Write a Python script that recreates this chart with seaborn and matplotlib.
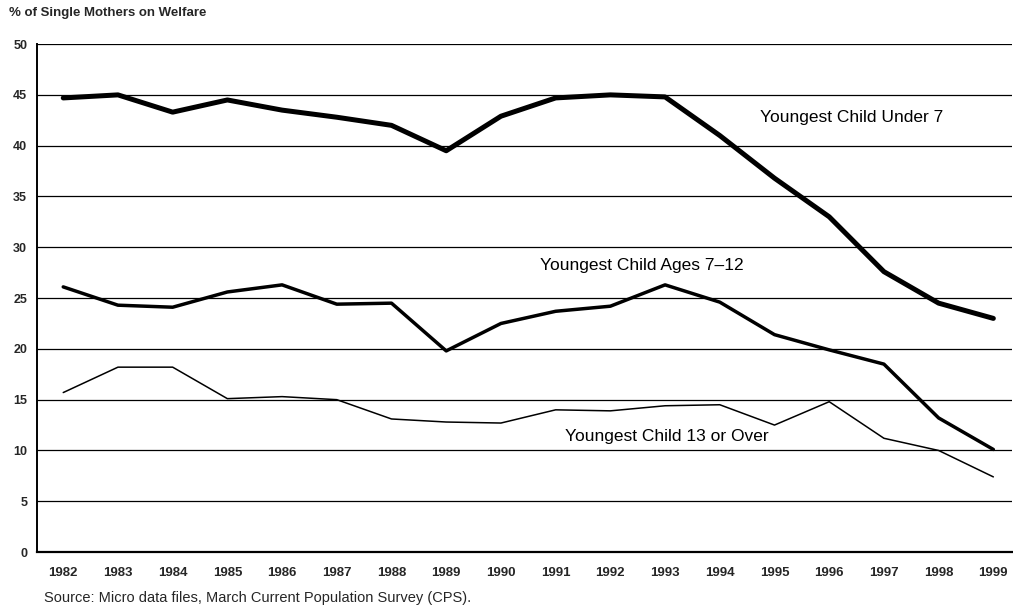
"""Share of single mothers on welfare by age of youngest child, 1982-1999."""

import matplotlib.pyplot as plt
import pandas as pd
import seaborn as sns


years = list(range(1982, 2000))

under_7 = [44.7, 45.0, 43.3, 44.5, 43.5, 42.8, 42.0, 39.5, 42.9,
           44.7, 45.0, 44.8, 41.0, 36.8, 33.0, 27.6, 24.5, 23.0]
ages_7_12 = [26.1, 24.3, 24.1, 25.6, 26.3, 24.4, 24.5, 19.8, 22.5,
             23.7, 24.2, 26.3, 24.6, 21.4, 19.9, 18.5, 13.2, 10.1]
over_13 = [15.7, 18.2, 18.2, 15.1, 15.3, 15.0, 13.1, 12.8, 12.7,
           14.0, 13.9, 14.4, 14.5, 12.5, 14.8, 11.2, 10.0, 7.4]

y_ticks = list(range(0, 55, 5))

sns.set_theme(style="white")
plt.rcParams["font.family"] = ["Liberation Sans", "DejaVu Sans"]


def main() -> None:
    df = pd.DataFrame({
        "year": years,
        "under_7": under_7,
        "ages_7_12": ages_7_12,
        "over_13": over_13,
    })

    fig = plt.figure(figsize=(10.13, 6.08), dpi=100)
    ax = fig.add_axes([0.0365, 0.092, 0.963, 0.8355])

    # gridlines first so the series sit on top
    for v in y_ticks[1:]:
        ax.axhline(v, color="black", linewidth=0.9, zorder=1)

    sns.lineplot(data=df, x="year", y="under_7", ax=ax, color="black",
                 linewidth=3.6, zorder=3)
    sns.lineplot(data=df, x="year", y="ages_7_12", ax=ax, color="black",
                 linewidth=2.5, zorder=3)
    sns.lineplot(data=df, x="year", y="over_13", ax=ax, color="black",
                 linewidth=1.1, zorder=3)

    ax.set_xlim(1981.52, 1999.35)
    ax.set_ylim(0, 50)
    ax.set_xlabel("")
    ax.set_ylabel("")

    ax.set_yticks(y_ticks)
    ax.set_yticklabels([str(v) for v in y_ticks], fontsize=9,
                       fontweight="bold")
    ax.set_xticks(years)
    ax.set_xticklabels([str(y) for y in years], fontsize=9.5,
                       fontweight="bold")
    ax.set_xticks([y + 0.5 for y in years[:-1]], minor=True)
    ax.tick_params(axis="x", which="major", length=0, pad=11)
    ax.tick_params(axis="x", which="minor", length=3, width=0.8,
                   direction="out", color="black")
    ax.tick_params(axis="y", which="major", length=3, width=0.8,
                   direction="out", color="black", pad=4)

    for side in ["top", "right"]:
        ax.spines[side].set_visible(False)
    ax.spines["left"].set_color("black")
    ax.spines["left"].set_linewidth(1.4)
    ax.spines["bottom"].set_color("black")
    ax.spines["bottom"].set_linewidth(1.6)

    label_kw = dict(fontsize=12.5, color="black", va="center", ha="left",
                    zorder=4)
    ax.text(1994.74, 42.8, "Youngest Child Under 7", **label_kw)
    ax.text(1990.72, 28.2, "Youngest Child Ages 7\u201312", **label_kw)
    ax.text(1991.18, 11.4, "Youngest Child 13 or Over", **label_kw)

    fig.text(0.009, 0.978, "% of Single Mothers on Welfare", fontsize=9.5,
             fontweight="bold", ha="left", va="center")
    fig.text(0.043, 0.017, "Source: Micro data files, March Current "
             "Population Survey (CPS).", fontsize=10.5, ha="left",
             va="center")

    fig.savefig("out.png", dpi=100)


if __name__ == "__main__":
    main()
